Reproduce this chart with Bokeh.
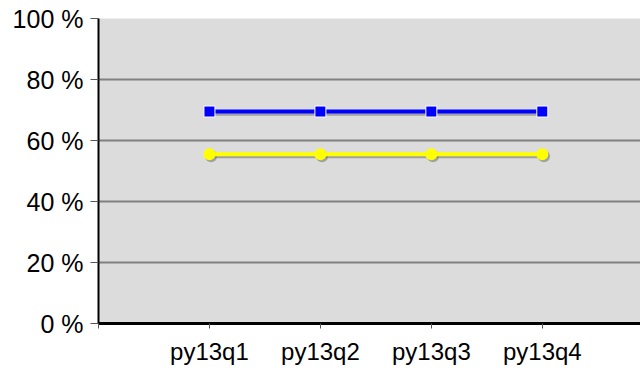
from bokeh.plotting import figure
from bokeh.embed import file_html
from bokeh.resources import INLINE
from bokeh.models import FixedTicker, PrintfTickFormatter, ColumnDataSource, Range1d
from bokeh.transform import dodge

categories = ["py13q1", "py13q2", "py13q3", "py13q4"]
blue_values = [69.5, 69.5, 69.5, 69.5]
yellow_values = [55.5, 55.5, 55.5, 55.5]
y_ticks = [0, 20, 40, 60, 80, 100]

xpos = [i + 1 for i in range(len(categories))]
src = ColumnDataSource(dict(x=xpos, blue=blue_values, yellow=yellow_values))

p = figure(width=640, height=368, output_backend="svg", toolbar_location=None,
           x_range=Range1d(0, 4.885), y_range=Range1d(0, 100),
           min_border_left=98, min_border_right=0, min_border_top=18, min_border_bottom=45)
p.background_fill_color = "#dcdcdc"
p.border_fill_color = "white"
p.outline_line_color = None

p.xgrid.grid_line_color = None
p.ygrid.grid_line_color = "#808080"
p.ygrid.grid_line_width = 2
p.ygrid.ticker = FixedTicker(ticks=y_ticks)

p.yaxis.ticker = FixedTicker(ticks=y_ticks)
p.yaxis.formatter = PrintfTickFormatter(format="%d %%")
p.yaxis.major_label_text_font = "Liberation Sans"
p.yaxis.major_label_text_font_size = "25px"
p.yaxis.major_label_text_color = "black"
p.yaxis.axis_line_color = "black"
p.yaxis.axis_line_width = 2
p.yaxis.major_tick_out = 8
p.yaxis.major_tick_in = 0
p.yaxis.major_tick_line_color = "#555555"
p.yaxis.minor_tick_line_color = None
p.yaxis.major_label_standoff = 7

p.xaxis.ticker = FixedTicker(ticks=[0] + xpos)
p.xaxis.major_label_overrides = {0: ""} | {x: c for x, c in zip(xpos, categories)}
p.xaxis.major_label_text_font = "Liberation Sans"
p.xaxis.major_label_text_font_size = "24px"
p.xaxis.major_label_text_color = "black"
p.xaxis.axis_line_color = "black"
p.xaxis.axis_line_width = 3
p.xaxis.major_tick_out = 5
p.xaxis.major_tick_in = 0
p.xaxis.major_tick_line_color = "#555555"
p.xaxis.minor_tick_line_color = None
p.xaxis.major_label_standoff = 9

# shadows
for col in ["blue", "yellow"]:
    p.line(x=dodge("x", 0.015, range=p.x_range), y=dodge(col, -0.7, range=p.y_range),
           source=src, line_color="#7a7a7a", line_width=4, line_alpha=0.6)
p.scatter(x=dodge("x", 0.015, range=p.x_range), y=dodge("yellow", -0.7, range=p.y_range),
          source=src, marker="circle", size=12, fill_color="#7a7a7a", line_color=None, fill_alpha=0.6)

p.line("x", "blue", source=src, line_color="#0000ff", line_width=4)
p.scatter("x", "blue", source=src, marker="square", size=11, fill_color="#0000ff",
          line_color="white", line_width=1)
p.line("x", "yellow", source=src, line_color="#ffff00", line_width=4)
p.scatter("x", "yellow", source=src, marker="circle", size=12, fill_color="#ffff00",
          line_color=None)

open("out.html", "w").write(file_html(p, INLINE))
